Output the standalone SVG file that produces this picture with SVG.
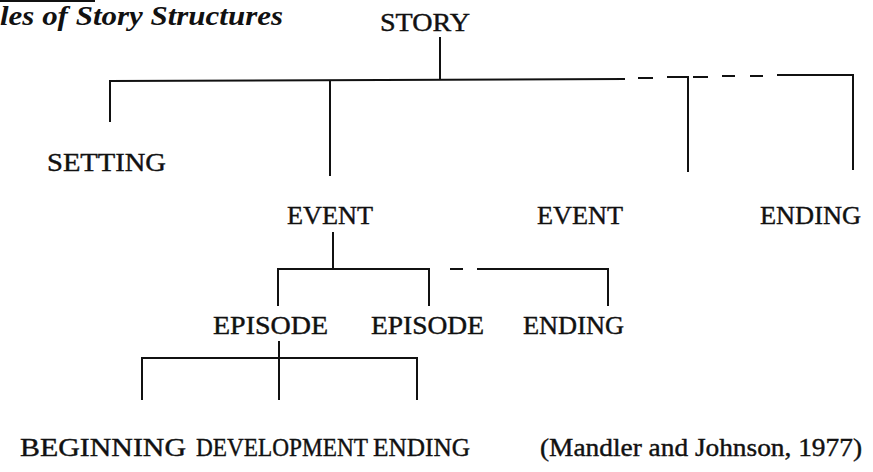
<svg xmlns="http://www.w3.org/2000/svg" width="873" height="472" viewBox="0 0 873 472">
<style>
.t{font-family:"Liberation Serif","Times New Roman",serif;font-size:25px;fill:#111;stroke:#111;stroke-width:0.4}
.ttl{font-family:"Liberation Serif","Times New Roman",serif;font-size:27px;font-style:italic;font-weight:bold;fill:#111}
.c{stroke:#111;stroke-width:2;fill:none}
</style>
<rect width="873" height="472" fill="#fff"/>
<line x1="0" y1="1" x2="95" y2="1" class="c"/>
<text id="title" class="ttl" x="0" y="25" textLength="283" lengthAdjust="spacingAndGlyphs">les of Story Structures</text>
<g id="connectors">
<line x1="440" y1="37" x2="440" y2="79" class="c"/>
<polyline points="110,122 110,81 625,79" class="c"/>
<line x1="330" y1="80" x2="330" y2="176" class="c"/>
<line x1="638" y1="78" x2="653" y2="78" class="c"/>
<polyline points="667,77 688,77 688,172" class="c"/>
<line x1="693" y1="77" x2="708" y2="77" class="c"/>
<line x1="722" y1="76" x2="735" y2="76" class="c"/>
<line x1="750" y1="76" x2="763" y2="76" class="c"/>
<polyline points="777,75 853,75 853,170" class="c"/>
<line x1="333" y1="232" x2="333" y2="269" class="c"/>
<polyline points="278,306 278,269 429,269 429,306" class="c"/>
<line x1="450" y1="269" x2="463" y2="269" class="c"/>
<polyline points="477,269 608,269 608,306" class="c"/>
<line x1="279" y1="341" x2="279" y2="358" class="c"/>
<polyline points="142,400 142,358 417,358 417,400" class="c"/>
<line x1="279" y1="358" x2="279" y2="400" class="c"/>
</g>
<g id="story"><text class="t" x="380" y="31" textLength="90" lengthAdjust="spacingAndGlyphs">STORY</text></g>
<g id="setting"><text class="t" x="47" y="171" textLength="119" lengthAdjust="spacingAndGlyphs">SETTING</text></g>
<g id="event1"><text class="t" x="287" y="224" textLength="86" lengthAdjust="spacingAndGlyphs">EVENT</text></g>
<g id="event2"><text class="t" x="537" y="224" textLength="86" lengthAdjust="spacingAndGlyphs">EVENT</text></g>
<g id="ending1"><text class="t" x="760" y="224" textLength="101" lengthAdjust="spacingAndGlyphs">ENDING</text></g>
<g id="episode1"><text class="t" x="213" y="334" textLength="115" lengthAdjust="spacingAndGlyphs">EPISODE</text></g>
<g id="episode2"><text class="t" x="371" y="334" textLength="113" lengthAdjust="spacingAndGlyphs">EPISODE</text></g>
<g id="ending2"><text class="t" x="523" y="334" textLength="101" lengthAdjust="spacingAndGlyphs">ENDING</text></g>
<g id="beginning"><text class="t" x="20" y="456" textLength="166" lengthAdjust="spacingAndGlyphs">BEGINNING</text></g>
<g id="development"><text class="t" x="196" y="456" textLength="172" lengthAdjust="spacingAndGlyphs">DEVELOPMENT</text></g>
<g id="ending3"><text class="t" x="373" y="456" textLength="97" lengthAdjust="spacingAndGlyphs">ENDING</text></g>
<g id="citation"><text class="t" x="540" y="456" textLength="322" lengthAdjust="spacingAndGlyphs">(Mandler and Johnson, 1977)</text></g>
</svg>
